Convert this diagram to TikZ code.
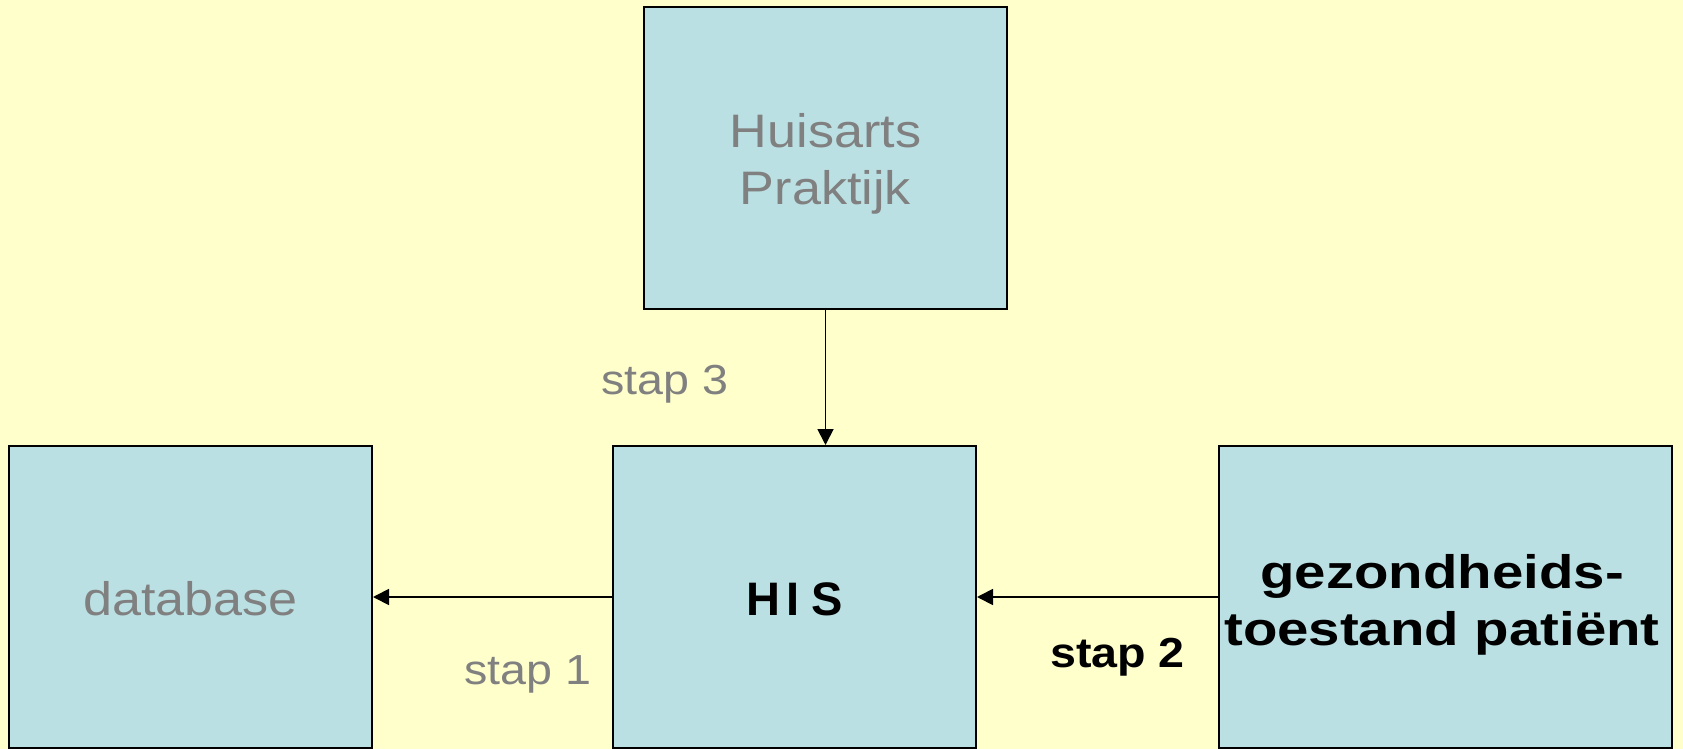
\documentclass[tikz,border=0pt]{standalone}
\usepackage{fontspec}
\setmainfont{Liberation Sans}
\newfontfamily\grayfont[FakeStretch=1.11]{Liberation Sans}
\newfontfamily\widebold[FakeStretch=1.2]{Liberation Sans}
\usetikzlibrary{arrows.meta}
\definecolor{bgyellow}{HTML}{FFFFCC}
\definecolor{boxblue}{HTML}{BBE0E3}
\definecolor{txtgray}{HTML}{808080}
\begin{document}
\begin{tikzpicture}[x=1pt,y=-1pt,
  box/.style={draw=black,line width=2pt,fill=boxblue,rectangle,inner sep=0pt,
    minimum width=363pt,minimum height=302pt},
  boxtext/.style={inner sep=0pt,anchor=base,text=txtgray,font=\grayfont\fontsize{47}{56}\selectfont},
  steplabel/.style={inner sep=0pt,anchor=base west,text=txtgray,font=\grayfont\fontsize{42}{50}\selectfont},
  boldlabel/.style={inner sep=0pt,anchor=base west,text=black,font=\grayfont\bfseries\fontsize{42}{50}\selectfont},
  boldtext/.style={inner sep=0pt,anchor=base,text=black,font=\widebold\bfseries\fontsize{47}{56}\selectfont},
  conn/.style={line width=1.8pt,-{Triangle[length=16pt,width=16pt]}}]
\useasboundingbox[fill=bgyellow] (0,0) rectangle (1683,749);
% boxes
\node[box] (huis) at (825.5,158) {};
\node[box] (db) at (190.5,597) {};
\node[box] (his) at (794.5,597) {};
\node[box,minimum width=453pt] (gez) at (1445.5,597) {};
% box texts
\node[boxtext] (huisA) at (825.5,147) {Huisarts};
\node[boxtext] (huisB) at (825.5,204) {Praktijk};
\node[boxtext] (dbtxt) at (190.5,615) {database};
\node[inner sep=0pt,anchor=base,text=black,font=\bfseries\fontsize{47}{56}\selectfont] (histxt) at (794.5,615) {H\kern6pt I\kern12pt S};
\node[boldtext] (gezA) at (1442,588) {gezondheids-};
\node[boldtext] (gezB) at (1442,645) {toestand patiënt};
% connectors
\draw[conn] (huis.south) -- (huis.south |- his.north);
\draw[conn] (his.west) -- (db.east);
\draw[conn] (gez.west) -- (his.east);
% step labels
\node[steplabel] (stap3) at (601,394) {stap 3};
\node[steplabel] (stap1) at (464,684) {stap 1};
\node[boldlabel] (stap2) at (1050,667) {stap 2};
\end{tikzpicture}
\end{document}
